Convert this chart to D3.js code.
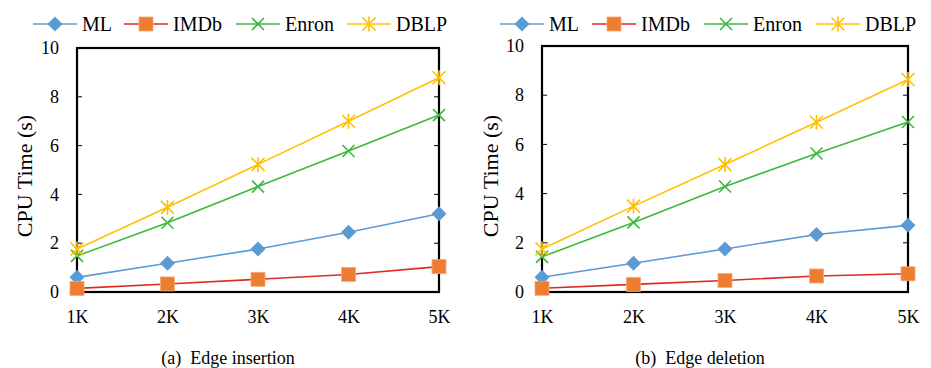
<!DOCTYPE html>
<html>
<head>
<meta charset="utf-8">
<script src="https://cdn.jsdelivr.net/npm/d3@7"></script>
<style>
  body { margin: 0; background: #fff; }
  svg text { font-family: "Liberation Serif", "Times New Roman", serif; fill: #000; }
</style>
</head>
<body>
<div id="main"></div>
<script>
const categories = ['1K', '2K', '3K', '4K', '5K'];
const seriesNames = ['ML', 'IMDb', 'Enron', 'DBLP'];
const yTicks = [0, 2, 4, 6, 8, 10];

// (a) edge insertion
const insML = [0.6, 1.18, 1.76, 2.45, 3.21];
const insIMDb = [0.15, 0.33, 0.52, 0.72, 1.04];
const insEnron = [1.48, 2.84, 4.32, 5.78, 7.25];
const insDBLP = [1.76, 3.47, 5.23, 7.0, 8.78];

// (b) edge deletion
const delML = [0.6, 1.17, 1.75, 2.34, 2.71];
const delIMDb = [0.15, 0.31, 0.47, 0.65, 0.74];
const delEnron = [1.43, 2.83, 4.29, 5.63, 6.91];
const delDBLP = [1.75, 3.49, 5.18, 6.9, 8.64];

const lineColor = { ML: '#5b9bd5', IMDb: '#e0291f', Enron: '#3cb83c', DBLP: '#ffc000' };
const markColor = { ML: '#5b9bd5', IMDb: '#ed7d31', Enron: '#3cb83c', DBLP: '#ffc000' };

const width = 931, height = 368;

const svg = d3.select('#main')
  .append('svg')
  .attr('width', width)
  .attr('height', height);

// draw a marker for a series at (0,0)
function marker(g, name) {
  if (name === 'ML') {
    g.append('path').attr('d', 'M0,-7.5L7.5,0L0,7.5L-7.5,0Z').attr('fill', markColor.ML);
  } else if (name === 'IMDb') {
    g.append('rect').attr('x', -7).attr('y', -7).attr('width', 14).attr('height', 14)
      .attr('fill', markColor.IMDb).attr('stroke', '#f4a77a').attr('stroke-width', 0.8);
  } else if (name === 'Enron') {
    g.append('path').attr('d', 'M-6,-6L6,6M-6,6L6,-6')
      .attr('stroke', markColor.Enron).attr('stroke-width', 1.6).attr('fill', 'none');
  } else {
    g.append('path').attr('d', 'M-6.5,-6.5L6.5,6.5M-6.5,6.5L6.5,-6.5M0,-7.5L0,7.5')
      .attr('stroke', markColor.DBLP).attr('stroke-width', 1.6).attr('fill', 'none');
  }
}

function panel(opt) {
  const x = d3.scalePoint().domain(categories).range([opt.left, opt.right]);
  const y = d3.scaleLinear().domain([0, 10]).range([opt.bottom, opt.top]);
  const g = svg.append('g');

  // y axis labels + inward ticks on both sides
  g.append('g')
    .attr('transform', `translate(${opt.left},0)`)
    .call(d3.axisLeft(y).tickValues(yTicks).tickSize(0).tickPadding(18))
    .call(a => a.select('.domain').remove())
    .call(a => a.selectAll('text').attr('font-size', 18).attr('font-family', null));
  yTicks.slice(1, -1).forEach(t => {
    g.append('line').attr('x1', opt.left).attr('x2', opt.left + 5)
      .attr('y1', y(t)).attr('y2', y(t)).attr('stroke', '#000').attr('stroke-width', 1);
    g.append('line').attr('x1', opt.right - 5).attr('x2', opt.right)
      .attr('y1', y(t)).attr('y2', y(t)).attr('stroke', '#000').attr('stroke-width', 1);
  });

  // x axis labels
  g.append('g')
    .attr('transform', `translate(0,${opt.bottom})`)
    .call(d3.axisBottom(x).tickSize(0).tickPadding(18))
    .call(a => a.select('.domain').remove())
    .call(a => a.selectAll('text').attr('font-size', 18).attr('font-family', null));

  // frame
  g.append('rect')
    .attr('x', opt.left).attr('y', opt.top)
    .attr('width', opt.right - opt.left).attr('height', opt.bottom - opt.top)
    .attr('fill', 'none').attr('stroke', '#000').attr('stroke-width', 2.2);

  const line = d3.line().x((d, i) => x(categories[i])).y(d => y(d));
  opt.series.forEach((vals, k) => {
    const name = seriesNames[k];
    g.append('path').datum(vals).attr('d', line)
      .attr('fill', 'none').attr('stroke', lineColor[name]).attr('stroke-width', 1.6);
  });
  opt.series.forEach((vals, k) => {
    const name = seriesNames[k];
    vals.forEach((v, i) => {
      const m = g.append('g').attr('transform', `translate(${x(categories[i])},${y(v)})`);
      marker(m, name);
    });
  });

  // y title
  g.append('text')
    .attr('transform', `translate(${opt.titleX},176) rotate(-90)`)
    .attr('text-anchor', 'middle').attr('dominant-baseline', 'central')
    .attr('font-size', 22).text('CPU Time (s)');

  // caption
  g.append('text')
    .attr('x', opt.captionX).attr('y', 364)
    .attr('text-anchor', 'middle').attr('font-size', 18)
    .attr('xml:space', 'preserve').text(opt.caption);

  // legend
  seriesNames.forEach((name, k) => {
    const lx = opt.legendX[k];
    const lg = g.append('g').attr('transform', `translate(${lx},24)`);
    lg.append('line').attr('x1', 0).attr('x2', 44).attr('y1', 0).attr('y2', 0)
      .attr('stroke', lineColor[name]).attr('stroke-width', 1.6);
    marker(lg.append('g').attr('transform', 'translate(22,0)'), name);
    lg.append('text').attr('x', 49).attr('y', 0).attr('dominant-baseline', 'central')
      .attr('font-size', 20).text(name);
  });
}

panel({
  left: 77, right: 439, top: 48, bottom: 292,
  series: [insML, insIMDb, insEnron, insDBLP],
  titleX: 24, captionX: 228, caption: '(a)  Edge insertion',
  legendX: [33, 124, 236, 347]
});

panel({
  left: 542, right: 908, top: 46, bottom: 292,
  series: [delML, delIMDb, delEnron, delDBLP],
  titleX: 490, captionX: 700, caption: '(b)  Edge deletion',
  legendX: [500, 592, 704, 816]
});
</script>
</body>
</html>
